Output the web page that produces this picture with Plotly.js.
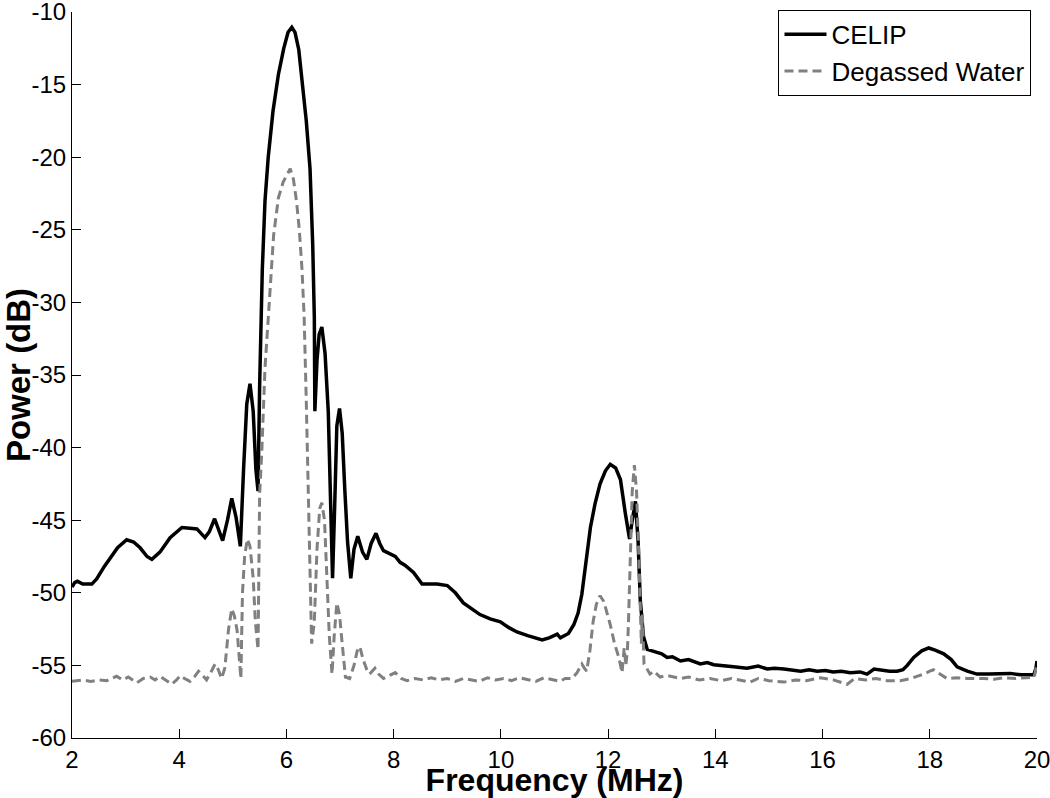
<!DOCTYPE html>
<html>
<head>
<meta charset="utf-8">
<script src="https://cdn.plot.ly/plotly-3.0.1.min.js"></script>
<style>
html,body{margin:0;padding:0;background:#fff;}
#chart{width:1050px;height:798px;}
</style>
</head>
<body>
<div id="chart"></div>
<script>
// Frequency (MHz) and power (dB)
const celipFreq = [2.0, 2.05, 2.1, 2.2, 2.37, 2.46, 2.6, 2.71, 2.85, 3.02, 3.15, 3.27, 3.4, 3.49, 3.64, 3.83, 4.05, 4.2, 4.33, 4.48, 4.56, 4.66, 4.74, 4.81, 4.9, 4.98, 5.06, 5.14, 5.2, 5.26, 5.32, 5.38, 5.43, 5.47, 5.50, 5.52, 5.55, 5.60, 5.66, 5.75, 5.85, 5.95, 6.03, 6.10, 6.16, 6.23, 6.30, 6.37, 6.44, 6.49, 6.52, 6.53, 6.57, 6.61, 6.66, 6.72, 6.78, 6.82, 6.86, 6.90, 6.94, 6.99, 7.04, 7.09, 7.14, 7.20, 7.26, 7.33, 7.42, 7.50, 7.58, 7.67, 7.74, 7.81, 7.92, 8.03, 8.12, 8.21, 8.37, 8.53, 8.7, 8.81, 9.0, 9.15, 9.3, 9.45, 9.61, 9.8, 9.99, 10.15, 10.3, 10.5, 10.77, 10.9, 11.05, 11.11, 11.17, 11.26, 11.36, 11.44, 11.51, 11.59, 11.67, 11.76, 11.85, 11.95, 12.04, 12.14, 12.23, 12.32, 12.40, 12.45, 12.51, 12.56, 12.60, 12.66, 12.73, 12.82, 12.91, 13.0, 13.1, 13.2, 13.35, 13.5, 13.72, 13.85, 13.97, 14.15, 14.34, 14.59, 14.8, 14.97, 15.1, 15.28, 15.45, 15.59, 15.75, 15.9, 16.05, 16.2, 16.35, 16.52, 16.7, 16.83, 16.96, 17.1, 17.25, 17.39, 17.5, 17.58, 17.70, 17.85, 17.98, 18.1, 18.26, 18.4, 18.51, 18.7, 18.88, 19.1, 19.32, 19.5, 19.7, 19.94, 19.98, 20.0];
const celipPower = [-49.6, -49.3, -49.2, -49.4, -49.4, -49.05, -48.2, -47.6, -46.9, -46.35, -46.5, -46.9, -47.5, -47.7, -47.2, -46.2, -45.5, -45.55, -45.6, -46.2, -45.8, -44.9, -45.7, -46.4, -45.0, -43.5, -44.8, -46.8, -41.5, -37.0, -35.6, -37.5, -41.5, -43.0, -35.7, -31.5, -27.7, -23.0, -20.0, -16.8, -14.3, -12.5, -11.4, -11.05, -11.4, -12.6, -14.8, -17.5, -20.8, -26.0, -31.0, -37.5, -34.0, -32.2, -31.7, -33.5, -37.5, -43.0, -49.0, -44.0, -38.5, -37.3, -39.0, -43.0, -46.5, -49.0, -47.0, -46.1, -47.2, -47.7, -46.6, -45.9, -46.6, -47.1, -47.3, -47.5, -47.9, -48.1, -48.6, -49.4, -49.4, -49.4, -49.5, -50.0, -50.7, -51.1, -51.5, -51.8, -52.0, -52.4, -52.7, -52.95, -53.25, -53.1, -52.85, -53.1, -53.0, -52.8, -52.2, -51.4, -50.1, -47.6, -45.5, -43.8, -42.5, -41.6, -41.15, -41.4, -42.2, -44.5, -46.3, -45.0, -43.7, -46.5, -50.5, -53.0, -53.9, -54.0, -54.1, -54.2, -54.45, -54.4, -54.7, -54.6, -54.9, -54.8, -54.95, -55.0, -55.1, -55.2, -55.05, -55.25, -55.2, -55.25, -55.3, -55.4, -55.3, -55.4, -55.35, -55.45, -55.4, -55.5, -55.45, -55.6, -55.25, -55.35, -55.4, -55.4, -55.3, -55.0, -54.45, -54.0, -53.8, -53.95, -54.2, -54.6, -55.1, -55.4, -55.6, -55.6, -55.6, -55.55, -55.65, -55.65, -55.2, -54.7];

const waterFreq = [2.0, 2.09, 2.2, 2.35, 2.5, 2.65, 2.75, 2.83, 2.95, 3.05, 3.21, 3.33, 3.46, 3.55, 3.64, 3.75, 3.86, 3.95, 4.02, 4.1, 4.20, 4.28, 4.36, 4.44, 4.51, 4.6, 4.67, 4.73, 4.79, 4.85, 4.92, 4.98, 5.03, 5.08, 5.12, 5.15, 5.18, 5.22, 5.27, 5.32, 5.38, 5.42, 5.47, 5.50, 5.54, 5.60, 5.68, 5.76, 5.85, 5.94, 6.07, 6.13, 6.19, 6.24, 6.29, 6.33, 6.37, 6.41, 6.44, 6.47, 6.52, 6.57, 6.62, 6.66, 6.71, 6.76, 6.80, 6.85, 6.89, 6.94, 6.99, 7.04, 7.10, 7.18, 7.26, 7.32, 7.37, 7.43, 7.50, 7.55, 7.65, 7.72, 7.81, 7.92, 8.03, 8.14, 8.25, 8.4, 8.55, 8.7, 8.85, 9.0, 9.15, 9.3, 9.45, 9.6, 9.75, 9.9, 10.05, 10.2, 10.35, 10.5, 10.65, 10.8, 10.95, 11.1, 11.2, 11.33, 11.42, 11.51, 11.56, 11.6, 11.66, 11.72, 11.78, 11.85, 11.92, 11.98, 12.04, 12.12, 12.2, 12.26, 12.3, 12.33, 12.36, 12.38, 12.41, 12.45, 12.49, 12.53, 12.57, 12.6, 12.62, 12.64, 12.67, 12.72, 12.78, 12.85, 12.97, 13.1, 13.35, 13.5, 13.7, 13.9, 14.1, 14.3, 14.5, 14.65, 14.8, 15.0, 15.28, 15.5, 15.7, 15.96, 16.2, 16.46, 16.6, 16.8, 17.0, 17.2, 17.45, 17.65, 17.8, 17.89, 18.0, 18.07, 18.15, 18.32, 18.5, 18.7, 19.0, 19.2, 19.4, 19.6, 19.8, 19.95, 19.98, 20.0];
const waterPower = [-56.1, -56.05, -56.0, -56.1, -56.0, -56.05, -55.9, -55.75, -56.0, -55.8, -56.2, -55.9, -55.8, -56.0, -55.75, -56.0, -56.3, -56.0, -55.7, -55.9, -56.1, -55.8, -55.4, -55.7, -56.0, -55.4, -54.9, -55.3, -55.9, -55.2, -52.5, -51.1, -51.6, -52.6, -54.5, -55.9, -50.0, -47.5, -46.3, -46.8, -49.0, -52.0, -53.9, -43.2, -40.3, -34.5, -30.0, -25.4, -22.8, -21.7, -20.8, -21.5, -23.1, -25.0, -27.7, -31.0, -36.8, -43.7, -49.0, -53.5, -52.0, -47.0, -44.2, -43.8, -45.0, -49.0, -53.0, -55.6, -53.0, -50.7, -51.5, -53.5, -55.8, -55.9, -55.0, -54.0, -53.7, -54.6, -55.3, -55.6, -55.2, -55.6, -55.9, -55.7, -55.5, -55.9, -56.05, -55.9, -56.0, -55.85, -56.0, -55.9, -56.1, -55.9, -56.0, -56.1, -55.85, -56.0, -55.9, -56.05, -55.85, -56.0, -56.1, -55.85, -56.0, -56.1, -55.9, -55.9, -55.5, -54.9, -55.2, -55.4, -54.0, -52.0, -50.8, -50.2, -50.6, -51.4, -52.2, -53.5, -54.45, -55.5, -53.8, -55.0, -54.0, -52.0, -47.5, -43.0, -41.2, -43.0, -47.1, -51.0, -53.5, -51.5, -54.9, -55.2, -55.6, -55.4, -55.8, -55.7, -55.9, -55.8, -56.0, -55.9, -56.05, -55.9, -56.05, -56.15, -55.9, -56.05, -56.15, -56.0, -56.05, -55.85, -56.0, -56.3, -55.9, -56.0, -55.9, -56.05, -56.05, -55.9, -55.7, -55.6, -55.4, -55.3, -55.5, -55.9, -55.85, -55.9, -55.9, -55.95, -55.85, -55.9, -55.85, -55.8, -55.2, -55.0];

const seriesNames = ['CELIP', 'Degassed Water'];
const xTicks = [2, 4, 6, 8, 10, 12, 14, 16, 18, 20];
const yTicks = [-60, -55, -50, -45, -40, -35, -30, -25, -20, -15, -10];

const font = 'Liberation Sans, Arial, Helvetica, sans-serif';

const traces = [
  {x: celipFreq, y: celipPower, name: seriesNames[0], type: 'scatter', mode: 'lines',
   line: {color: '#000000', width: 3.5}},
  {x: waterFreq, y: waterPower, name: seriesNames[1], type: 'scatter', mode: 'lines',
   line: {color: '#808080', width: 3, dash: '9px,5px'}}
];

const layout = {
  width: 1050, height: 798,
  paper_bgcolor: '#ffffff', plot_bgcolor: '#ffffff',
  margin: {l: 72, r: 13, t: 10, b: 60, pad: 0},
  font: {family: font, size: 24, color: '#000'},
  showlegend: true,
  legend: {x: 0.9943, y: 1.003, xanchor: 'right', yanchor: 'top',
           bordercolor: '#000', borderwidth: 1, bgcolor: '#fff',
           font: {family: font, size: 26, color: '#000'},
           tracegroupgap: 0, itemwidth: 42},
  xaxis: {range: [2, 20], tickvals: xTicks, ticktext: xTicks.map(String),
          ticks: 'inside', ticklen: 9, tickcolor: '#000', tickwidth: 1,
          showline: true, linecolor: '#000', linewidth: 1, mirror: false,
          showgrid: false, zeroline: false, automargin: false,
          ticklabeloverflow: 'allow',
          tickfont: {family: font, size: 24, color: '#000'},
          title: {text: '<b>Frequency (MHz)</b>', font: {family: font, size: 32, color: '#000'}, standoff: 1}},
  yaxis: {range: [-60, -10], tickvals: yTicks, ticktext: yTicks.map(String),
          ticks: 'inside', ticklen: 9, tickcolor: '#000', tickwidth: 1,
          showline: true, linecolor: '#000', linewidth: 1, mirror: false,
          showgrid: false, zeroline: false, automargin: false,
          ticklabeloverflow: 'allow',
          tickfont: {family: font, size: 24, color: '#000'},
          title: {text: '<b>Power (dB)</b>', font: {family: font, size: 33, color: '#000'}, standoff: 0}}
};

Plotly.newPlot('chart', traces, layout, {displayModeBar: false, staticPlot: true});
</script>
</body>
</html>
